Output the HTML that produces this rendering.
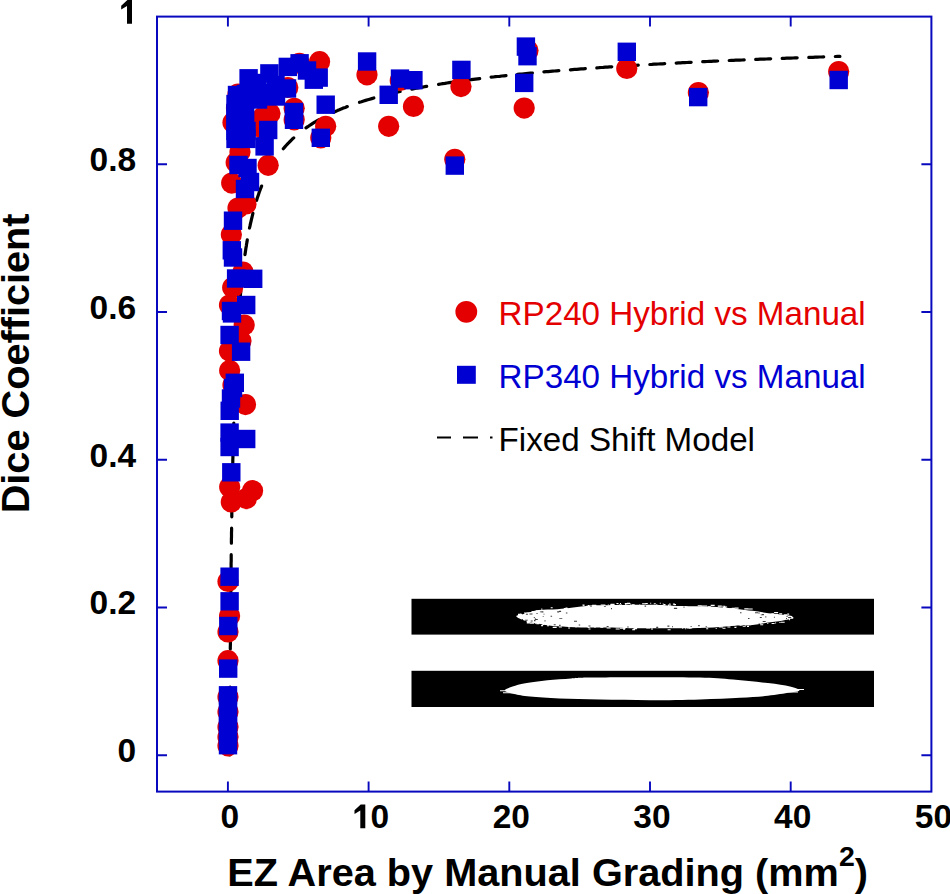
<!DOCTYPE html><html><head><meta charset="utf-8"><style>html,body{margin:0;padding:0;background:#fff;}svg{display:block;}text{font-family:"Liberation Sans",sans-serif;}</style></head><body>
<svg width="950" height="894" viewBox="0 0 950 894">
<rect width="950" height="894" fill="#fff"/>
<path d="M229.7 754.9 L229.7 752.7 L229.7 750.6 L229.7 748.4 L229.7 746.3 L229.7 744.2 L229.7 742.0 L229.7 739.9 M229.8 728.4 L229.8 726.3 L229.8 724.1 L229.8 722.0 L229.9 719.8 L229.9 717.7 L229.9 715.6 L229.9 713.4 M230.0 702.0 L230.0 699.8 L230.0 697.7 L230.0 695.5 L230.0 693.4 L230.0 691.2 L230.0 689.1 L230.1 687.0 M230.1 675.5 L230.1 673.4 L230.2 671.2 L230.2 669.1 L230.2 666.9 L230.2 664.8 L230.2 662.7 L230.2 660.5 M230.3 649.1 L230.3 646.9 L230.4 644.8 L230.4 642.6 L230.4 640.5 L230.4 638.3 L230.4 636.2 L230.4 634.1 M230.5 622.6 L230.6 620.5 L230.6 618.3 L230.6 616.2 L230.6 614.0 L230.6 611.9 L230.6 609.7 L230.7 607.6 M230.8 596.1 L230.8 594.0 L230.8 591.9 L230.8 589.7 L230.9 587.6 L230.9 585.4 L230.9 583.3 L230.9 581.1 M231.1 569.7 L231.1 567.5 L231.1 565.4 L231.1 563.3 L231.2 561.1 L231.2 559.0 L231.2 556.8 L231.2 554.7 M231.4 543.2 L231.4 541.1 L231.4 538.9 L231.5 536.8 L231.5 534.7 L231.5 532.5 L231.6 530.4 L231.6 528.2 M231.8 516.8 L231.8 514.6 L231.8 512.5 L231.9 510.4 L231.9 508.2 L231.9 506.1 L232.0 503.9 L232.0 501.8 M232.2 490.5 L232.2 488.4 L232.3 486.2 L232.3 484.1 L232.4 481.9 L232.4 479.8 L232.5 477.7 L232.5 475.5 M232.7 464.2 L232.8 462.1 L232.8 460.0 L232.9 457.8 L232.9 455.7 L233.0 453.5 L233.0 451.4 L233.1 449.3 M233.3 438.0 L233.4 435.8 L233.5 433.7 L233.5 431.6 L233.6 429.4 L233.6 427.3 L233.7 425.1 L233.8 423.0 M234.1 411.7 L234.2 409.6 L234.2 407.5 L234.3 405.3 L234.4 403.2 L234.4 401.0 L234.5 398.9 L234.6 396.7 M235.0 385.5 L235.1 383.3 L235.2 381.2 L235.3 379.1 L235.4 376.9 L235.4 374.8 L235.5 372.6 L235.6 370.5 M236.1 359.2 L236.2 357.1 L236.3 355.0 L236.5 352.8 L236.6 350.7 L236.7 348.5 L236.8 346.4 L236.9 344.3 M237.6 333.0 L237.7 330.9 L237.8 328.7 L238.0 326.6 L238.1 324.5 L238.2 322.3 L238.4 320.2 L238.5 318.1 M239.4 306.8 L239.6 304.7 L239.7 302.5 L239.9 300.4 L240.1 298.3 L240.3 296.1 L240.5 294.0 L240.7 291.9 M241.8 280.7 L242.0 278.5 L242.2 276.4 L242.5 274.3 L242.7 272.1 L243.0 270.0 L243.2 267.9 L243.5 265.8 M245.0 254.6 L245.3 252.5 L245.6 250.4 L245.9 248.2 L246.3 246.1 L246.6 244.0 L247.0 241.9 L247.3 239.8 M249.5 228.0 L250.0 225.9 L250.4 223.9 L250.9 221.8 L251.4 219.7 L251.9 217.6 L252.4 215.5 L252.9 213.4 M256.6 200.3 L257.2 198.2 L257.9 196.2 L258.6 194.2 L259.3 192.1 L260.0 190.1 L260.8 188.1 L261.6 186.1 M267.4 173.2 L268.4 171.2 L269.4 169.4 L270.4 167.5 L271.5 165.6 L272.6 163.8 L273.7 162.0 L274.8 160.2 M283.3 148.7 L284.7 147.1 L286.1 145.5 L287.6 143.9 L289.1 142.4 L290.6 140.8 L292.1 139.3 L293.7 137.9 M306.0 127.9 L307.8 126.7 L309.5 125.5 L311.3 124.3 L313.1 123.1 L315.0 122.0 L316.8 120.9 L318.7 119.8 M333.5 112.3 L335.4 111.5 L337.4 110.6 L339.4 109.8 L341.3 108.9 L343.3 108.1 L345.3 107.4 L347.3 106.6 M359.5 102.3 L361.5 101.7 L363.6 101.0 L365.6 100.4 L367.7 99.8 L369.7 99.2 L371.8 98.6 L373.8 98.0 M385.5 94.9 L387.6 94.4 L389.7 93.9 L391.8 93.4 L393.8 93.0 L395.9 92.5 L398.0 92.0 L400.1 91.5 M411.9 89.1 L414.0 88.7 L416.1 88.3 L418.2 87.9 L420.3 87.5 L422.5 87.1 L424.6 86.7 L426.7 86.4 M438.6 84.4 L440.7 84.0 L442.8 83.7 L444.9 83.4 L447.0 83.0 L449.2 82.7 L451.3 82.4 L453.4 82.1 M464.8 80.5 L466.9 80.2 L469.1 79.9 L471.2 79.7 L473.3 79.4 L475.4 79.1 L477.6 78.8 L479.7 78.6 M491.1 77.2 L493.3 77.0 L495.4 76.7 L497.5 76.5 L499.7 76.3 L501.8 76.0 L503.9 75.8 L506.0 75.6 M517.5 74.4 L519.6 74.2 L521.8 74.0 L523.9 73.8 L526.0 73.6 L528.2 73.4 L530.3 73.2 L532.4 73.0 M543.9 71.9 L546.1 71.7 L548.2 71.6 L550.3 71.4 L552.5 71.2 L554.6 71.0 L556.7 70.8 L558.9 70.7 M570.4 69.8 L572.5 69.6 L574.6 69.4 L576.8 69.3 L578.9 69.1 L581.0 68.9 L583.2 68.8 L585.3 68.6 M596.8 67.8 L598.9 67.7 L601.1 67.5 L603.2 67.4 L605.4 67.2 L607.5 67.1 L609.6 66.9 L611.8 66.8 M623.3 66.1 L625.4 65.9 L627.6 65.8 L629.7 65.7 L631.8 65.5 L634.0 65.4 L636.1 65.3 L638.3 65.2 M649.8 64.5 L651.9 64.4 L654.0 64.2 L656.2 64.1 L658.3 64.0 L660.5 63.9 L662.6 63.8 L664.7 63.7 M676.2 63.1 L678.4 62.9 L680.5 62.8 L682.7 62.7 L684.8 62.6 L686.9 62.5 L689.1 62.4 L691.2 62.3 M702.7 61.7 L704.9 61.6 L707.0 61.5 L709.2 61.4 L711.3 61.3 L713.4 61.2 L715.6 61.1 L717.7 61.0 M729.2 60.5 L731.4 60.4 L733.5 60.3 L735.7 60.2 L737.8 60.2 L739.9 60.1 L742.1 60.0 L744.2 59.9 M755.7 59.4 L757.9 59.3 L760.0 59.2 L762.2 59.2 L764.3 59.1 L766.4 59.0 L768.6 58.9 L770.7 58.8 M782.2 58.4 L784.4 58.3 L786.5 58.2 L788.7 58.1 L790.8 58.1 L793.0 58.0 L795.1 57.9 L797.2 57.8 M808.8 57.4 L810.9 57.3 L813.0 57.3 L815.2 57.2 L817.3 57.1 L819.5 57.0 L821.6 57.0 L823.7 56.9 M835.3 56.5 L837.6 56.4 L839.9 56.4" fill="none" stroke="#000" stroke-width="3.2" stroke-linecap="round" stroke-linejoin="round"/>
<circle cx="626.8" cy="68.5" r="10.6" fill="#e40000"/>
<circle cx="698.4" cy="92.6" r="10.6" fill="#e40000"/>
<circle cx="838.7" cy="71.5" r="10.6" fill="#e40000"/>
<circle cx="461.0" cy="86.6" r="10.6" fill="#e40000"/>
<circle cx="454.8" cy="159.3" r="10.6" fill="#e40000"/>
<circle cx="528.0" cy="50.5" r="10.6" fill="#e40000"/>
<circle cx="524.2" cy="108.1" r="10.6" fill="#e40000"/>
<circle cx="367.0" cy="74.8" r="10.6" fill="#e40000"/>
<circle cx="400.3" cy="80.5" r="10.6" fill="#e40000"/>
<circle cx="413.5" cy="106.4" r="10.6" fill="#e40000"/>
<circle cx="388.7" cy="126.3" r="10.6" fill="#e40000"/>
<circle cx="319.6" cy="61.7" r="10.6" fill="#e40000"/>
<circle cx="299.4" cy="63.4" r="10.6" fill="#e40000"/>
<circle cx="287.8" cy="87.5" r="10.6" fill="#e40000"/>
<circle cx="294.2" cy="108.3" r="10.6" fill="#e40000"/>
<circle cx="294.2" cy="119.8" r="10.6" fill="#e40000"/>
<circle cx="325.7" cy="126.3" r="10.6" fill="#e40000"/>
<circle cx="320.8" cy="137.8" r="10.6" fill="#e40000"/>
<circle cx="238.0" cy="94.0" r="10.6" fill="#e40000"/>
<circle cx="236.5" cy="108.0" r="10.6" fill="#e40000"/>
<circle cx="233.0" cy="122.4" r="10.6" fill="#e40000"/>
<circle cx="270.0" cy="113.5" r="10.6" fill="#e40000"/>
<circle cx="263.0" cy="117.0" r="10.6" fill="#e40000"/>
<circle cx="263.5" cy="122.0" r="10.6" fill="#e40000"/>
<circle cx="262.0" cy="128.0" r="10.6" fill="#e40000"/>
<circle cx="240.0" cy="152.0" r="10.6" fill="#e40000"/>
<circle cx="236.2" cy="162.4" r="10.6" fill="#e40000"/>
<circle cx="268.2" cy="165.3" r="10.6" fill="#e40000"/>
<circle cx="231.7" cy="183.1" r="10.6" fill="#e40000"/>
<circle cx="238.0" cy="208.0" r="10.6" fill="#e40000"/>
<circle cx="246.0" cy="204.0" r="10.6" fill="#e40000"/>
<circle cx="231.4" cy="234.5" r="10.6" fill="#e40000"/>
<circle cx="243.0" cy="272.0" r="10.6" fill="#e40000"/>
<circle cx="232.7" cy="287.6" r="10.6" fill="#e40000"/>
<circle cx="229.5" cy="305.0" r="10.6" fill="#e40000"/>
<circle cx="244.2" cy="325.0" r="10.6" fill="#e40000"/>
<circle cx="241.0" cy="341.0" r="10.6" fill="#e40000"/>
<circle cx="229.5" cy="351.0" r="10.6" fill="#e40000"/>
<circle cx="229.7" cy="370.5" r="10.6" fill="#e40000"/>
<circle cx="233.0" cy="385.0" r="10.6" fill="#e40000"/>
<circle cx="245.5" cy="404.6" r="10.6" fill="#e40000"/>
<circle cx="229.7" cy="487.0" r="10.6" fill="#e40000"/>
<circle cx="252.6" cy="490.7" r="10.6" fill="#e40000"/>
<circle cx="231.3" cy="502.0" r="10.6" fill="#e40000"/>
<circle cx="246.4" cy="498.6" r="10.6" fill="#e40000"/>
<circle cx="228.0" cy="581.5" r="10.6" fill="#e40000"/>
<circle cx="229.6" cy="616.0" r="10.6" fill="#e40000"/>
<circle cx="228.0" cy="632.0" r="10.6" fill="#e40000"/>
<circle cx="228.0" cy="660.7" r="10.6" fill="#e40000"/>
<circle cx="228.0" cy="697.0" r="10.6" fill="#e40000"/>
<circle cx="228.0" cy="712.0" r="10.6" fill="#e40000"/>
<circle cx="228.0" cy="727.0" r="10.6" fill="#e40000"/>
<circle cx="228.0" cy="737.0" r="10.6" fill="#e40000"/>
<circle cx="228.0" cy="745.8" r="10.6" fill="#e40000"/>
<rect x="617.6" y="42.6" width="18.4" height="18.4" fill="#0000d2"/>
<rect x="689.0" y="87.9" width="18.4" height="18.4" fill="#0000d2"/>
<rect x="829.5" y="70.8" width="18.4" height="18.4" fill="#0000d2"/>
<rect x="452.2" y="60.7" width="18.4" height="18.4" fill="#0000d2"/>
<rect x="445.6" y="156.4" width="18.4" height="18.4" fill="#0000d2"/>
<rect x="516.7" y="37.4" width="18.4" height="18.4" fill="#0000d2"/>
<rect x="518.3" y="47.0" width="18.4" height="18.4" fill="#0000d2"/>
<rect x="515.0" y="73.7" width="18.4" height="18.4" fill="#0000d2"/>
<rect x="357.9" y="52.3" width="18.4" height="18.4" fill="#0000d2"/>
<rect x="390.8" y="69.4" width="18.4" height="18.4" fill="#0000d2"/>
<rect x="404.2" y="71.0" width="18.4" height="18.4" fill="#0000d2"/>
<rect x="379.5" y="85.6" width="18.4" height="18.4" fill="#0000d2"/>
<rect x="316.5" y="95.5" width="18.4" height="18.4" fill="#0000d2"/>
<rect x="311.6" y="128.6" width="18.4" height="18.4" fill="#0000d2"/>
<rect x="290.4" y="54.1" width="18.4" height="18.4" fill="#0000d2"/>
<rect x="278.6" y="57.7" width="18.4" height="18.4" fill="#0000d2"/>
<rect x="260.2" y="64.2" width="18.4" height="18.4" fill="#0000d2"/>
<rect x="239.4" y="69.1" width="18.4" height="18.4" fill="#0000d2"/>
<rect x="297.8" y="61.3" width="18.4" height="18.4" fill="#0000d2"/>
<rect x="309.5" y="68.4" width="18.4" height="18.4" fill="#0000d2"/>
<rect x="304.6" y="70.5" width="18.4" height="18.4" fill="#0000d2"/>
<rect x="247.8" y="73.8" width="18.4" height="18.4" fill="#0000d2"/>
<rect x="277.8" y="79.3" width="18.4" height="18.4" fill="#0000d2"/>
<rect x="284.8" y="102.8" width="18.4" height="18.4" fill="#0000d2"/>
<rect x="284.8" y="110.6" width="18.4" height="18.4" fill="#0000d2"/>
<rect x="266.3" y="75.8" width="18.4" height="18.4" fill="#0000d2"/>
<rect x="266.8" y="87.3" width="18.4" height="18.4" fill="#0000d2"/>
<rect x="252.8" y="83.8" width="18.4" height="18.4" fill="#0000d2"/>
<rect x="248.8" y="90.3" width="18.4" height="18.4" fill="#0000d2"/>
<rect x="236.8" y="84.8" width="18.4" height="18.4" fill="#0000d2"/>
<rect x="227.8" y="85.8" width="18.4" height="18.4" fill="#0000d2"/>
<rect x="226.3" y="94.8" width="18.4" height="18.4" fill="#0000d2"/>
<rect x="235.8" y="94.8" width="18.4" height="18.4" fill="#0000d2"/>
<rect x="226.3" y="103.8" width="18.4" height="18.4" fill="#0000d2"/>
<rect x="235.8" y="103.8" width="18.4" height="18.4" fill="#0000d2"/>
<rect x="226.3" y="112.8" width="18.4" height="18.4" fill="#0000d2"/>
<rect x="235.8" y="112.8" width="18.4" height="18.4" fill="#0000d2"/>
<rect x="226.3" y="121.8" width="18.4" height="18.4" fill="#0000d2"/>
<rect x="237.3" y="121.8" width="18.4" height="18.4" fill="#0000d2"/>
<rect x="259.0" y="120.8" width="18.4" height="18.4" fill="#0000d2"/>
<rect x="255.4" y="137.2" width="18.4" height="18.4" fill="#0000d2"/>
<rect x="226.3" y="129.7" width="18.4" height="18.4" fill="#0000d2"/>
<rect x="237.3" y="129.7" width="18.4" height="18.4" fill="#0000d2"/>
<rect x="229.3" y="155.8" width="18.4" height="18.4" fill="#0000d2"/>
<rect x="238.3" y="158.8" width="18.4" height="18.4" fill="#0000d2"/>
<rect x="235.8" y="179.8" width="18.4" height="18.4" fill="#0000d2"/>
<rect x="240.8" y="172.8" width="18.4" height="18.4" fill="#0000d2"/>
<rect x="223.8" y="211.5" width="18.4" height="18.4" fill="#0000d2"/>
<rect x="222.6" y="241.1" width="18.4" height="18.4" fill="#0000d2"/>
<rect x="223.8" y="248.3" width="18.4" height="18.4" fill="#0000d2"/>
<rect x="226.9" y="269.3" width="18.4" height="18.4" fill="#0000d2"/>
<rect x="244.0" y="269.6" width="18.4" height="18.4" fill="#0000d2"/>
<rect x="237.0" y="295.8" width="18.4" height="18.4" fill="#0000d2"/>
<rect x="221.8" y="301.8" width="18.4" height="18.4" fill="#0000d2"/>
<rect x="222.8" y="304.2" width="18.4" height="18.4" fill="#0000d2"/>
<rect x="220.4" y="325.8" width="18.4" height="18.4" fill="#0000d2"/>
<rect x="231.9" y="342.5" width="18.4" height="18.4" fill="#0000d2"/>
<rect x="225.6" y="373.6" width="18.4" height="18.4" fill="#0000d2"/>
<rect x="221.8" y="389.3" width="18.4" height="18.4" fill="#0000d2"/>
<rect x="223.8" y="378.8" width="18.4" height="18.4" fill="#0000d2"/>
<rect x="220.5" y="401.6" width="18.4" height="18.4" fill="#0000d2"/>
<rect x="220.4" y="423.4" width="18.4" height="18.4" fill="#0000d2"/>
<rect x="220.4" y="437.8" width="18.4" height="18.4" fill="#0000d2"/>
<rect x="237.0" y="429.8" width="18.4" height="18.4" fill="#0000d2"/>
<rect x="222.1" y="463.1" width="18.4" height="18.4" fill="#0000d2"/>
<rect x="220.4" y="567.5" width="18.4" height="18.4" fill="#0000d2"/>
<rect x="220.4" y="592.1" width="18.4" height="18.4" fill="#0000d2"/>
<rect x="219.1" y="616.8" width="18.4" height="18.4" fill="#0000d2"/>
<rect x="219.0" y="659.4" width="18.4" height="18.4" fill="#0000d2"/>
<rect x="218.8" y="686.1" width="18.4" height="18.4" fill="#0000d2"/>
<rect x="218.8" y="695.8" width="18.4" height="18.4" fill="#0000d2"/>
<rect x="218.8" y="705.8" width="18.4" height="18.4" fill="#0000d2"/>
<rect x="218.8" y="715.8" width="18.4" height="18.4" fill="#0000d2"/>
<rect x="218.8" y="725.8" width="18.4" height="18.4" fill="#0000d2"/>
<rect x="218.8" y="736.0" width="18.4" height="18.4" fill="#0000d2"/>
<rect x="157.0" y="16.6" width="774.4" height="775.0" fill="none" stroke="#0808be" stroke-width="2"/>
<path d="M227.9 791.6V781.6 M227.9 16.6V26.6 M368.6 791.6V781.6 M368.6 16.6V26.6 M509.3 791.6V781.6 M509.3 16.6V26.6 M650.0 791.6V781.6 M650.0 16.6V26.6 M790.7 791.6V781.6 M790.7 16.6V26.6 M157.0 755.2H167.0 M931.4 755.2H921.4 M157.0 607.5H167.0 M931.4 607.5H921.4 M157.0 459.8H167.0 M931.4 459.8H921.4 M157.0 312.0H167.0 M931.4 312.0H921.4 M157.0 164.3H167.0 M931.4 164.3H921.4" stroke="#0808be" stroke-width="1.9" fill="none"/>
<text x="229.9" y="828.4" font-size="33.5" font-weight="bold" text-anchor="middle">0</text>
<text x="511.3" y="828.4" font-size="33.5" font-weight="bold" text-anchor="middle">20</text>
<text x="652.0" y="828.4" font-size="33.5" font-weight="bold" text-anchor="middle">30</text>
<text x="792.7" y="828.4" font-size="33.5" font-weight="bold" text-anchor="middle">40</text>
<text x="933.4" y="828.4" font-size="33.5" font-weight="bold" text-anchor="middle">50</text>
<path d="M365.3 828.3V804.6H360.7L354.5 810.2V813.9L360.3 810.5V828.3Z" fill="#000"/>
<text x="379.8" y="828.4" font-size="33.5" font-weight="bold" text-anchor="middle">0</text>
<path d="M132.0 23.8V0.1H127.4L121.2 5.7V9.4L127.0 6.0V23.8Z" fill="#000"/>
<text x="136.2" y="762.0" font-size="33.5" font-weight="bold" text-anchor="end">0</text>
<text x="136.2" y="614.3" font-size="33.5" font-weight="bold" text-anchor="end">0.2</text>
<text x="136.2" y="466.6" font-size="33.5" font-weight="bold" text-anchor="end">0.4</text>
<text x="136.2" y="318.8" font-size="33.5" font-weight="bold" text-anchor="end">0.6</text>
<text x="136.2" y="171.1" font-size="33.5" font-weight="bold" text-anchor="end">0.8</text>
<text x="227.3" y="885.5" font-size="39.7" font-weight="bold">EZ Area by Manual Grading (mm<tspan font-size="28.5" dy="-19.6">2</tspan><tspan dy="19.6">)</tspan></text>
<text transform="translate(29,363.4) rotate(-90)" font-size="39.7" font-weight="bold" text-anchor="middle">Dice Coefficient</text>
<circle cx="466.3" cy="311.8" r="10.9" fill="#e40000"/>
<rect x="457" y="365.8" width="18.8" height="18" fill="#0000d2"/>
<path d="M437 437.4H451M463 437.4H478M490 437.4H492.5" stroke="#000" stroke-width="2"/>
<text x="498.6" y="324.8" font-size="33.2" fill="#e40000">RP240 Hybrid vs Manual</text>
<text x="498.6" y="387.9" font-size="33.2" fill="#0000d2">RP340 Hybrid vs Manual</text>
<text x="498.6" y="451" font-size="33.2" fill="#000">Fixed Shift Model</text>
<rect x="411.5" y="598.8" width="462.5" height="35.8" fill="#000"/>
<rect x="411.5" y="670.8" width="462.5" height="36.2" fill="#000"/>
<path d="M516.3 616.3 C516.3 615.1 522.1 614.6 525.8 613.6 C529.5 612.6 533.1 610.7 538.4 610.0 C543.7 609.3 551.6 609.6 557.4 609.2 C563.2 608.8 567.9 608.2 573.2 607.6 C578.5 607.0 583.8 606.1 589.0 605.7 C594.2 605.3 596.8 605.4 604.7 605.3 C612.6 605.1 627.1 604.9 636.3 604.8 C645.5 604.7 652.5 604.7 660.0 604.9 C667.5 605.1 672.7 605.8 681.6 606.1 C690.5 606.4 704.0 606.3 713.2 606.8 C722.4 607.3 730.2 608.2 736.8 608.9 C743.4 609.6 747.3 610.1 752.6 610.8 C757.9 611.5 762.3 612.4 768.4 613.2 C774.5 614.0 785.0 614.9 789.0 615.5 C793.0 616.1 792.9 616.3 792.1 617.1 C791.3 617.9 788.2 619.4 784.2 620.3 C780.2 621.2 773.7 621.8 768.4 622.6 C763.1 623.4 757.9 624.5 752.6 625.0 C747.3 625.5 743.4 625.4 736.8 625.8 C730.2 626.2 722.4 627.0 713.2 627.4 C704.0 627.8 692.1 628.1 681.6 628.2 C671.1 628.3 657.5 628.2 650.0 628.2 C642.5 628.2 643.8 628.3 636.3 628.2 C628.8 628.1 613.9 627.5 604.7 627.4 C595.5 627.3 588.9 627.6 581.0 627.4 C573.1 627.2 564.0 626.8 557.4 626.3 C550.8 625.8 546.9 625.1 541.6 624.2 C536.3 623.3 530.0 622.3 525.8 621.0 C521.6 619.7 516.3 617.5 516.3 616.3Z" fill="#fff"/>
<path d="M504.7 690.5 C504.5 689.3 509.2 687.8 512.6 686.6 C516.0 685.4 519.5 684.2 525.3 683.2 C531.1 682.2 539.8 681.1 547.4 680.3 C555.0 679.5 564.0 678.9 571.1 678.4 C578.2 677.9 576.9 677.7 590.0 677.5 C603.1 677.3 631.7 677.2 650.0 677.2 C668.3 677.2 686.1 677.2 700.0 677.6 C713.9 678.0 721.8 678.7 733.1 679.6 C744.4 680.5 758.4 682.0 767.9 683.1 C777.4 684.2 784.7 685.3 790.0 686.5 C795.3 687.7 799.5 689.2 799.5 690.2 C799.5 691.2 795.3 691.7 790.0 692.6 C784.7 693.5 776.2 694.9 767.9 695.8 C759.6 696.7 751.3 697.2 740.0 697.8 C728.7 698.4 715.0 699.0 700.0 699.4 C685.0 699.8 666.7 700.2 650.0 700.2 C633.3 700.2 615.1 699.9 600.0 699.6 C584.9 699.3 571.2 699.0 559.5 698.5 C547.8 698.0 537.6 697.2 530.0 696.5 C522.4 695.8 518.2 695.0 514.0 694.0 C509.8 693.0 504.9 691.7 504.7 690.5Z" fill="#fff"/>
<path d="M500 690.2h12v1h-12zM503 692.3h10v0.9h-10zM790 689h14v0.9h-14zM786 691.6h12v0.9h-12zM782 687.2h10v0.8h-10z" fill="#fff"/>
<path d="M646.2 627.4h4.0v1.0h-4.0ZM789.2 617.6h4.0v1.2h-4.0ZM610.9 604.5h3.0v1.0h-3.0ZM610.6 603.7h4.0v1.2h-4.0ZM659.8 602.8h1.0v1.0h-1.0ZM784.2 614.4h1.0v1.0h-1.0ZM592.1 604.7h3.0v1.2h-3.0ZM558.9 626.6h3.0v1.0h-3.0ZM594.5 626.8h1.0v1.2h-1.0ZM775.1 622.4h1.0v1.0h-1.0ZM536.3 623.1h3.0v1.2h-3.0ZM771.9 613.3h2.0v1.0h-2.0ZM783.6 614.5h3.0v1.2h-3.0ZM663.5 604.1h2.0v1.2h-2.0ZM613.1 604.6h1.0v1.0h-1.0ZM718.9 626.4h4.0v1.0h-4.0ZM774.1 612.0h4.0v1.2h-4.0ZM667.6 629.3h3.0v1.0h-3.0ZM787.2 613.5h2.0v1.2h-2.0ZM789.1 619.2h1.0v1.0h-1.0ZM689.4 628.0h1.0v1.0h-1.0ZM700.3 605.4h3.0v1.0h-3.0ZM707.8 606.3h3.0v1.2h-3.0ZM519.0 614.8h3.0v1.0h-3.0ZM527.4 620.8h2.0v1.0h-2.0ZM609.9 604.6h2.0v1.0h-2.0ZM656.3 604.3h1.0v1.0h-1.0ZM627.5 604.9h3.0v1.0h-3.0ZM541.1 625.0h2.0v1.2h-2.0ZM727.4 626.5h3.0v1.0h-3.0ZM530.0 622.8h4.0v1.0h-4.0ZM767.3 623.0h1.0v1.0h-1.0ZM541.3 608.5h1.0v1.2h-1.0ZM747.0 625.7h2.0v1.2h-2.0ZM590.3 605.5h1.0v1.0h-1.0ZM722.3 605.8h3.0v1.0h-3.0ZM717.8 605.6h4.0v1.2h-4.0ZM749.7 608.4h3.0v1.0h-3.0ZM687.1 627.2h2.0v1.2h-2.0ZM587.6 627.1h2.0v1.0h-2.0ZM650.2 602.7h1.0v1.0h-1.0ZM703.1 605.4h4.0v1.2h-4.0ZM645.8 602.9h2.0v1.2h-2.0ZM786.0 618.6h4.0v1.0h-4.0ZM742.7 625.5h3.0v1.2h-3.0ZM575.5 626.6h1.0v1.0h-1.0ZM722.8 606.9h3.0v1.0h-3.0ZM710.7 604.8h4.0v1.2h-4.0ZM524.8 612.8h4.0v1.2h-4.0ZM600.7 604.6h3.0v1.0h-3.0ZM748.2 608.6h4.0v1.0h-4.0ZM775.5 614.0h3.0v1.2h-3.0ZM620.0 602.9h1.0v1.2h-1.0ZM771.6 623.0h3.0v1.0h-3.0ZM532.1 622.7h2.0v1.0h-2.0ZM784.1 614.3h3.0v1.2h-3.0ZM760.3 624.2h2.0v1.0h-2.0ZM531.6 622.2h2.0v1.2h-2.0ZM651.0 628.4h2.0v1.2h-2.0ZM631.7 604.3h3.0v1.2h-3.0ZM697.7 605.2h4.0v1.0h-4.0ZM563.8 608.1h4.0v1.0h-4.0ZM642.1 603.2h4.0v1.0h-4.0ZM668.1 605.0h1.0v1.2h-1.0ZM583.5 605.1h1.0v1.2h-1.0ZM622.9 627.3h3.0v1.2h-3.0ZM724.1 606.5h3.0v1.0h-3.0ZM706.2 628.3h2.0v1.0h-2.0ZM592.3 604.7h4.0v1.2h-4.0ZM779.4 621.9h1.0v1.0h-1.0ZM526.8 622.2h4.0v1.2h-4.0ZM518.0 613.8h4.0v1.2h-4.0ZM586.1 605.7h1.0v1.2h-1.0ZM541.3 623.1h2.0v1.0h-2.0ZM674.0 604.1h2.0v1.2h-2.0ZM662.7 603.4h1.0v1.0h-1.0ZM600.3 626.8h3.0v1.0h-3.0ZM734.6 607.5h4.0v1.2h-4.0ZM780.7 621.7h4.0v1.0h-4.0ZM667.9 604.4h3.0v1.0h-3.0ZM524.0 612.6h4.0v1.0h-4.0ZM588.5 628.4h2.0v1.2h-2.0ZM527.3 612.2h4.0v1.0h-4.0ZM519.9 613.4h1.0v1.0h-1.0ZM653.8 603.2h2.0v1.0h-2.0ZM645.4 602.9h1.0v1.2h-1.0ZM685.2 628.2h1.0v1.0h-1.0ZM770.6 613.4h2.0v1.2h-2.0ZM532.2 610.9h3.0v1.0h-3.0ZM791.3 617.1h2.0v1.2h-2.0ZM526.7 621.0h3.0v1.2h-3.0ZM639.2 604.6h1.0v1.2h-1.0ZM633.1 628.4h2.0v1.2h-2.0ZM615.7 628.5h4.0v1.0h-4.0ZM531.5 611.2h4.0v1.0h-4.0ZM606.6 627.5h4.0v1.0h-4.0ZM740.4 624.7h1.0v1.2h-1.0ZM535.1 622.5h1.0v1.2h-1.0ZM617.5 603.0h1.0v1.2h-1.0ZM722.5 627.8h3.0v1.0h-3.0ZM715.7 628.0h1.0v1.0h-1.0ZM744.3 608.2h4.0v1.2h-4.0ZM734.4 626.8h2.0v1.2h-2.0ZM568.1 627.4h2.0v1.0h-2.0ZM607.8 604.5h1.0v1.0h-1.0ZM625.3 604.1h1.0v1.2h-1.0ZM669.4 603.3h1.0v1.0h-1.0ZM590.6 605.4h4.0v1.2h-4.0ZM565.5 607.4h2.0v1.0h-2.0ZM731.7 607.8h3.0v1.2h-3.0ZM587.6 604.9h2.0v1.0h-2.0ZM582.5 604.5h2.0v1.2h-2.0ZM535.8 610.2h2.0v1.0h-2.0ZM697.0 627.0h4.0v1.0h-4.0ZM748.3 624.3h3.0v1.0h-3.0ZM550.7 607.3h2.0v1.0h-2.0ZM620.0 627.8h3.0v1.0h-3.0ZM547.0 625.3h2.0v1.0h-2.0ZM619.0 604.6h3.0v1.0h-3.0ZM682.2 627.6h1.0v1.2h-1.0ZM630.1 603.5h1.0v1.0h-1.0ZM526.6 612.3h4.0v1.0h-4.0ZM736.1 625.2h1.0v1.0h-1.0ZM627.0 602.8h3.0v1.2h-3.0ZM779.2 613.2h3.0v1.2h-3.0ZM632.1 629.3h3.0v1.0h-3.0ZM625.1 602.9h4.0v1.0h-4.0ZM634.1 628.0h3.0v1.2h-3.0ZM729.8 608.2h2.0v1.2h-2.0ZM542.4 624.1h2.0v1.0h-2.0ZM613.3 604.8h1.0v1.0h-1.0ZM623.1 628.6h2.0v1.2h-2.0ZM552.7 626.8h4.0v1.2h-4.0ZM532.6 622.2h2.0v1.0h-2.0ZM688.2 627.5h4.0v1.0h-4.0ZM672.9 603.6h2.0v1.2h-2.0ZM616.4 603.0h2.0v1.0h-2.0ZM760.2 624.3h3.0v1.0h-3.0ZM624.8 603.1h3.0v1.2h-3.0ZM602.4 604.5h3.0v1.2h-3.0Z" fill="#fff"/>
<path d="M533.8 617.1h1.0v0.8h-1.0ZM542.7 616.0h1.0v0.8h-1.0ZM534.8 617.9h1.0v0.8h-1.0ZM530.7 620.6h2.0v1.0h-2.0ZM557.2 611.2h2.0v1.2h-2.0ZM740.0 612.2h1.5v1.0h-1.5ZM544.5 620.3h1.0v1.2h-1.0ZM574.0 620.8h3.0v1.0h-3.0ZM644.6 605.6h1.5v1.2h-1.5ZM611.0 608.1h1.0v1.2h-1.0ZM673.9 607.8h3.0v1.2h-3.0ZM543.5 613.7h1.0v0.8h-1.0ZM675.2 607.9h2.0v0.8h-2.0ZM773.9 616.7h1.0v1.0h-1.0ZM534.0 620.0h1.5v1.2h-1.5ZM755.0 612.3h3.0v1.0h-3.0ZM667.4 625.5h2.0v1.2h-2.0ZM758.5 623.6h1.5v0.8h-1.5ZM565.9 612.6h1.5v0.8h-1.5ZM672.0 626.2h1.0v1.0h-1.0ZM762.7 621.0h3.0v1.0h-3.0ZM536.3 613.2h1.5v0.8h-1.5ZM559.1 610.8h2.0v1.2h-2.0ZM524.9 619.7h3.0v0.8h-3.0ZM690.6 626.0h1.0v1.0h-1.0ZM788.1 616.9h3.0v1.0h-3.0ZM541.4 611.3h2.0v1.2h-2.0ZM590.0 605.7h2.0v0.8h-2.0ZM705.7 626.0h1.0v1.2h-1.0ZM748.0 618.0h1.5v1.0h-1.5ZM578.7 624.6h1.5v1.0h-1.5ZM525.9 613.8h2.0v1.0h-2.0ZM588.5 625.5h2.0v1.0h-2.0ZM539.9 611.4h3.0v0.8h-3.0ZM786.0 617.9h1.0v1.0h-1.0ZM765.3 616.3h1.0v1.2h-1.0ZM550.6 615.7h1.5v1.0h-1.5ZM759.8 617.1h2.0v0.8h-2.0ZM735.8 625.4h3.0v1.0h-3.0ZM627.2 626.6h1.5v0.8h-1.5ZM559.1 624.7h1.5v1.2h-1.5ZM742.8 625.2h2.0v0.8h-2.0ZM521.9 618.9h1.0v1.2h-1.0ZM786.3 616.0h1.5v0.8h-1.5ZM553.7 624.3h2.0v1.0h-2.0ZM698.2 625.1h1.5v1.2h-1.5ZM559.3 617.9h3.0v0.8h-3.0ZM683.5 606.6h1.0v1.2h-1.0ZM534.8 619.1h3.0v0.8h-3.0ZM758.2 612.4h1.5v1.0h-1.5ZM529.5 613.4h3.0v1.2h-3.0ZM525.6 620.1h1.0v1.0h-1.0ZM606.6 626.0h2.0v1.0h-2.0ZM656.2 626.7h2.0v1.2h-2.0ZM760.8 614.4h3.0v0.8h-3.0ZM603.9 606.0h2.0v0.8h-2.0ZM762.0 614.0h2.0v0.8h-2.0Z" fill="#000" fill-opacity="0.75"/>
</svg></body></html>
